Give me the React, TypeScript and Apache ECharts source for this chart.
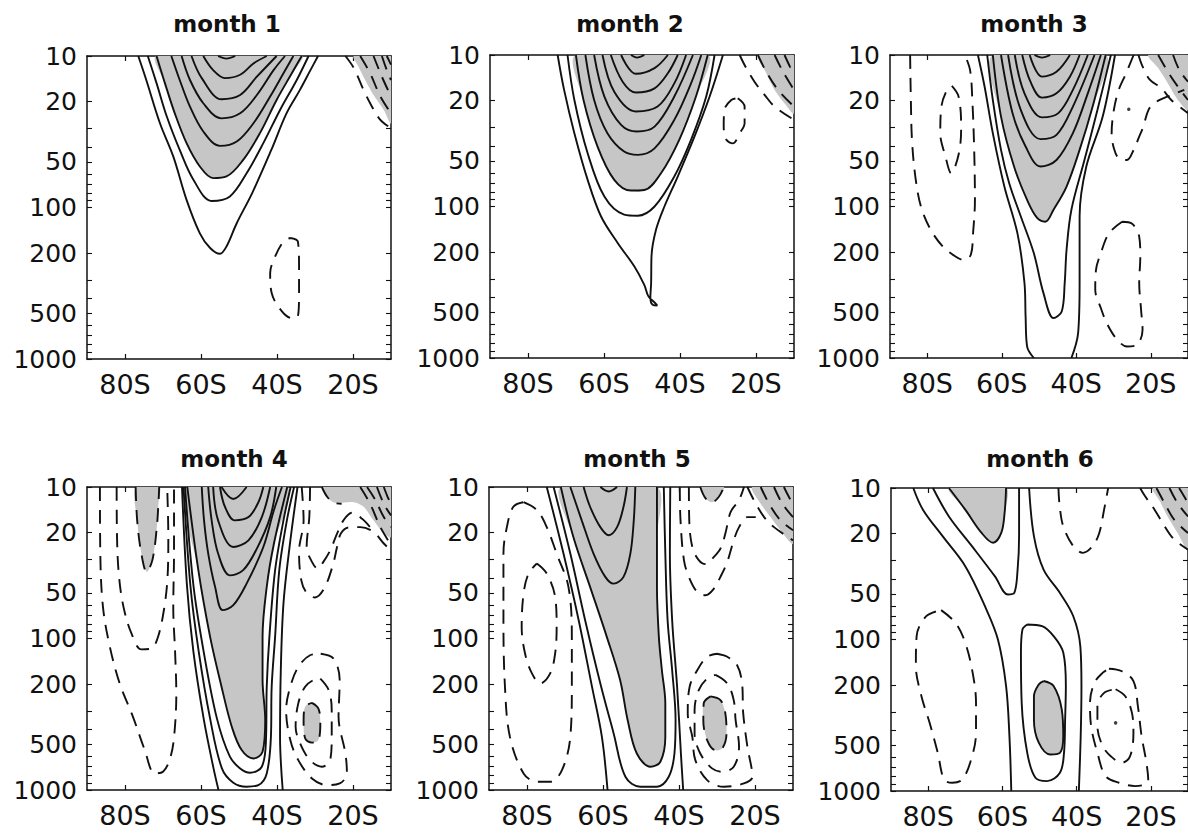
import React, { useEffect, useRef } from 'react';
import * as echarts from 'echarts';

type Pt = [number, number];

// ---------- labels ----------
const months = ['month 1', 'month 2', 'month 3', 'month 4', 'month 5', 'month 6'];
const pressureLabels = [10, 20, 50, 100, 200, 500, 1000];
const pressureTicks = [10, 20, 30, 40, 50, 60, 70, 80, 90, 100, 200, 300, 400, 500, 600, 700, 800, 900, 1000];
const latLabels = [-80, -60, -40, -20];

// ---------- month 1 ----------
const m1Solid: Pt[][] = [
  [[-76.5, 10], [-74.4, 14.4], [-70.8, 27.8], [-67.3, 46], [-63.8, 89], [-60.3, 148], [-57.6, 185], [-55, 202], [-53.3, 181], [-50.6, 127], [-46.5, 80], [-41.5, 41.7], [-37.5, 23.9], [-34, 16.8], [-31.2, 12.4], [-29.2, 10]],
  [[-74, 10], [-71.7, 15.1], [-69, 25.1], [-65.6, 41.7], [-62, 65.6], [-57.2, 90.5], [-52.4, 84.5], [-48, 59.4], [-43.6, 37.6], [-39.2, 22.7], [-34.8, 14.4], [-31.7, 10]],
  [[-71.7, 10], [-69.5, 15.1], [-66.9, 23.9], [-63.8, 37.6], [-60.3, 53.6], [-56.8, 64], [-53.3, 62.4], [-48.9, 48.5], [-44.5, 32.3], [-40.1, 19.5], [-36.1, 13], [-33.5, 10]],
  [[-67.8, 10], [-65.6, 14.4], [-62.9, 21.6], [-59.4, 31.5], [-55, 39.2], [-50.6, 36.7], [-46.2, 27.8], [-41.8, 18.5], [-38.3, 13], [-35.7, 10]],
  [[-65.1, 10], [-62.9, 14.4], [-59.4, 20.5], [-54.6, 25.8], [-49.7, 23.9], [-45.3, 18.1], [-40.9, 12.4], [-37.9, 10]],
  [[-62.5, 10], [-59.8, 14], [-54.6, 19.3], [-49.7, 18.1], [-45.3, 13.7], [-40.1, 10]],
  [[-59.4, 10], [-56.8, 12.4], [-53.7, 14], [-49.7, 13.3], [-46.2, 11.2], [-42.7, 10]],
  [[-55.5, 10], [-53.3, 10.4], [-51, 10]],
];
const m1Dashed: Pt[][] = [
  [[-36.5, 159], [-34.5, 168], [-34.2, 246], [-34.2, 367], [-34.5, 524], [-36.1, 537], [-38.7, 485], [-41.4, 367], [-41.8, 271], [-40.5, 211], [-38.3, 168], [-36.5, 159]],
  [[-22, 10], [-19.8, 12], [-17.2, 16.8], [-15, 21.6], [-12.8, 26.4], [-10, 30]],
  [[-18.1, 10], [-15.5, 13], [-12.8, 18.5], [-10, 23.9]],
  [[-14.6, 10], [-12.4, 13.7], [-10, 18.5]],
  [[-12.4, 10], [-11.1, 12.4], [-10, 14.4]],
  [[-11.1, 10], [-10, 11.4]],
];
const m1Shade: Pt[][] = [
  [[-71.7, 10], [-69.5, 15.1], [-66.9, 23.9], [-63.8, 37.6], [-60.3, 53.6], [-56.8, 64], [-53.3, 62.4], [-48.9, 48.5], [-44.5, 32.3], [-40.1, 19.5], [-36.1, 13], [-33.5, 10]],
  [[-19.8, 10], [-10, 10], [-10, 27.8], [-11.9, 22.7], [-14.6, 18.1], [-16.8, 14.4], [-18.5, 11.8]],
];
const m1Dots: Pt[] = [];

// ---------- month 2 ----------
const m2Solid: Pt[][] = [
  [[-72.2, 10], [-70.5, 17], [-67.8, 32.8], [-64.3, 66.7], [-60.8, 116], [-56.4, 174], [-52, 249], [-49.4, 329], [-48.3, 392], [-46.7, 430], [-46, 450], [-47.2, 445], [-47.8, 402], [-47.6, 320], [-47.5, 213], [-46.3, 142], [-44.1, 100], [-40.6, 63.4], [-36.2, 34.6], [-32.2, 18.8], [-28.7, 10]],
  [[-69.6, 10], [-67.8, 19.8], [-64.3, 44.5], [-59.9, 86], [-54.7, 113], [-51.1, 115], [-46.7, 100], [-41.5, 63.4], [-37.1, 36.3], [-33.1, 18.8], [-30.9, 10]],
  [[-67.4, 10], [-65.4, 19.8], [-61.7, 40.2], [-57.3, 66.7], [-52.9, 78.5], [-49.4, 77.8], [-45, 60.3], [-40.2, 36.3], [-35.8, 18.8], [-32.7, 10]],
  [[-64.9, 10], [-62.6, 19.8], [-59.1, 32.8], [-54.7, 43.4], [-51.1, 45.6], [-46.7, 41.3], [-41.5, 26.8], [-37.1, 15.4], [-34.4, 10]],
  [[-62.6, 10], [-59.9, 18.8], [-55.5, 28.9], [-51.3, 32], [-46.7, 29.7], [-41.5, 18.8], [-36.6, 10]],
  [[-60.4, 10], [-57.3, 17.5], [-51.6, 23.6], [-45.9, 21.9], [-41.5, 15.4], [-38.4, 10]],
  [[-58.2, 10], [-55.1, 15], [-51.6, 17.7], [-46.7, 16.6], [-43.2, 13.2], [-40.6, 10]],
  [[-55.5, 10], [-51.6, 13.3], [-46.7, 12.2], [-43.2, 10]],
  [[-52.9, 10], [-51.3, 10.4], [-49.4, 10]],
];
const m2Dashed: Pt[][] = [
  [[-24.8, 19.3], [-23, 21.9], [-23, 28.2], [-24.3, 32.8], [-26.1, 38.3], [-27.8, 36.3], [-28.5, 29.7], [-28.3, 23], [-26.5, 19.8], [-24.8, 19.3]],
  [[-24.3, 10], [-22.8, 11.9], [-20.4, 15], [-17.7, 18.4], [-15.1, 21.9], [-10, 26.8]],
  [[-19.5, 10], [-17.3, 12.9], [-14.2, 17], [-10, 21.9]],
  [[-15.1, 10], [-12.9, 12.9], [-10, 17]],
  [[-12.5, 10], [-11.1, 11.9], [-10, 13.5]],
];
const m2Shade: Pt[][] = [
  [[-67.4, 10], [-65.4, 19.8], [-61.7, 40.2], [-57.3, 66.7], [-52.9, 78.5], [-49.4, 77.8], [-45, 60.3], [-40.2, 36.3], [-35.8, 18.8], [-32.7, 10]],
  [[-19.5, 10], [-10, 10], [-10, 24.2], [-12.5, 20.8], [-15.1, 17], [-17.3, 13.2]],
];
const m2Dots: Pt[] = [];

// ---------- month 3 ----------
const m3Solid: Pt[][] = [
  [[-66.4, 10], [-64.6, 16.2], [-62.4, 32.8], [-59.3, 73.8], [-55.8, 150], [-53.9, 320], [-53.6, 531], [-53.2, 839], [-51.4, 1000]],
  [[-29.6, 10], [-32.9, 25.5], [-37.3, 54.5], [-39.1, 116], [-39.1, 320], [-39.5, 686], [-41.3, 1000]],
  [[-63.9, 10], [-62.4, 19.8], [-60.2, 42.3], [-58, 70.2], [-54.9, 116], [-51.4, 203], [-48.8, 373], [-46.1, 545], [-43.9, 493], [-43.1, 320], [-42.6, 193], [-41.3, 105], [-37.8, 49.3], [-34.3, 23], [-30.7, 10]],
  [[-62.4, 10], [-60.2, 25.5], [-56.7, 54.5], [-53.2, 90.5], [-50.5, 119], [-48.3, 126], [-46.1, 105], [-42.6, 73.8], [-39.1, 42.3], [-35.6, 21.9], [-32.1, 10]],
  [[-60.2, 10], [-57.1, 24.2], [-53.6, 40.2], [-49.6, 54.5], [-45.3, 49.3], [-40.9, 32.8], [-36.9, 17.9], [-33.4, 10]],
  [[-58.3, 10], [-54.9, 23], [-49.6, 35.9], [-45.3, 33.7], [-40.9, 21.9], [-35.1, 10]],
  [[-56.5, 10], [-53.9, 17.9], [-49.2, 25.8], [-44.8, 24.2], [-40.9, 17], [-36.9, 10]],
  [[-54.5, 10], [-52.3, 15], [-49.2, 19.1], [-45.3, 17.9], [-41.7, 13.9], [-39.1, 10]],
  [[-52.5, 10], [-49.2, 13.9], [-45.3, 12.9], [-41.7, 10]],
  [[-51.2, 10], [-49.2, 10.4], [-47, 10]],
];
const m3Dashed: Pt[][] = [
  [[-84.6, 10], [-84.4, 19.8], [-84.1, 36.3], [-83.2, 63.4], [-81.7, 100], [-79.1, 142], [-75.8, 184], [-72.5, 213], [-70.3, 225], [-68.3, 208], [-67.7, 150], [-67.2, 90.5], [-67.4, 42.3], [-67.9, 19.8], [-68.5, 12.6], [-69.9, 10]],
  [[-73.4, 16], [-71.6, 18.8], [-70.9, 29.7], [-71.5, 44.5], [-73.6, 60.3], [-75.1, 46.8], [-76.5, 32.8], [-76.2, 21.9], [-74.7, 17], [-73.4, 16]],
  [[-24.6, 10], [-26.8, 13.5], [-28.6, 17], [-29.9, 23], [-30.5, 32.8], [-29.9, 41.3], [-28.6, 48], [-26.4, 49.3], [-24.6, 42.3], [-23.1, 34.6], [-22, 29.7], [-20.6, 23], [-18.9, 20.8], [-17.6, 19.8], [-14.5, 18.4], [-11, 17]],
  [[-27.7, 126], [-25, 130], [-23.1, 158], [-22.8, 213], [-23.1, 320], [-22.6, 480], [-22.2, 651], [-23.7, 818], [-26.4, 839], [-29, 758], [-31.6, 603], [-33.4, 468], [-34.9, 355], [-34.7, 262], [-33.4, 203], [-31.2, 150], [-27.7, 126]],
  [[-23.3, 10], [-22.2, 11.9], [-20.2, 14.6], [-17.1, 16.6], [-14.5, 19.8], [-10, 24.2]],
  [[-18, 10], [-15.4, 12.9], [-12.7, 16.2], [-10, 19.8]],
  [[-14, 10], [-12.3, 12.6], [-10, 15]],
];
const m3Shade: Pt[][] = [
  [[-62.4, 10], [-60.2, 25.5], [-56.7, 54.5], [-53.2, 90.5], [-50.5, 119], [-48.3, 126], [-46.1, 105], [-42.6, 73.8], [-39.1, 42.3], [-35.6, 21.9], [-32.1, 10]],
  [[-20.6, 10], [-10, 10], [-10, 23], [-12.7, 19.8], [-15.4, 15.4], [-18, 12.2]],
];
const m3Dots: Pt[] = [[-25.9, 22.8]];

// ---------- month 4 ----------
const m4Solid: Pt[][] = [
  [[-65, 10], [-63.7, 44.5], [-62, 122], [-59.3, 338], [-56.7, 720], [-55.4, 1000]],
  [[-34.6, 10], [-36.7, 24.9], [-38.3, 58.8], [-39, 162], [-39.2, 445], [-38.5, 1000]],
  [[-64.6, 10], [-62.8, 44.5], [-60.6, 122], [-57.6, 338], [-54.5, 720], [-51.5, 895], [-48, 951], [-44.9, 928], [-42.7, 777], [-41.6, 445], [-41.4, 208], [-40.5, 97.5], [-39.4, 35.4], [-37.4, 16.6], [-35.5, 10]],
  [[-64.2, 10], [-62, 44.5], [-59.3, 122], [-55.8, 338], [-52.4, 603], [-49.7, 720], [-47.1, 769], [-44, 702], [-42.9, 468], [-42.7, 208], [-42, 97.5], [-40.5, 35.4], [-38.3, 16.6], [-36.4, 10]],
  [[-63.6, 10], [-60.7, 35.4], [-57.6, 97.5], [-54.6, 208], [-51.9, 382], [-49.3, 545], [-46.2, 619], [-43.8, 560], [-43.1, 346], [-43.8, 188], [-43.8, 97.5], [-42.7, 45.6], [-40.8, 23.6], [-37.3, 10]],
  [[-59.8, 10], [-59.2, 16.6], [-58.1, 27.5], [-56.3, 45.6], [-54.3, 65], [-51.5, 60.3], [-48, 43.4], [-43.6, 24.9], [-40.8, 14.2], [-38.7, 10]],
  [[-58.1, 10], [-57.2, 16.6], [-55.5, 27.5], [-52.4, 38.3], [-48.9, 35.4], [-45.3, 25.5], [-41.8, 15.8], [-40.2, 10]],
  [[-56.8, 10], [-55.5, 16.6], [-51.5, 24.9], [-47.5, 22.5], [-44, 15.8], [-41.8, 10]],
  [[-55, 10], [-53.7, 13.5], [-51.1, 16.6], [-47.5, 15.8], [-44.9, 12.6], [-43.6, 10]],
  [[-54.6, 10], [-51.5, 12], [-48, 10]],
];
const m4Dashed: Pt[][] = [
  [[-77.2, 10], [-76.8, 16.6], [-75.7, 27.5], [-74.3, 36.3], [-72.8, 30.4], [-71.7, 19.3], [-71.2, 12.9], [-71, 10]],
  [[-82.2, 10], [-82.1, 21.4], [-81.6, 38.3], [-80.4, 61.8], [-78.3, 92.6], [-75.7, 118], [-73, 116], [-71.3, 97.5], [-69.7, 63.4], [-68.8, 39.2], [-68.6, 21.4], [-68.9, 10]],
  [[-86.6, 10], [-86.5, 27.5], [-85.8, 61.8], [-84, 113], [-81.4, 198], [-77.9, 329], [-74.8, 545], [-72.2, 777], [-70, 758], [-68, 603], [-67, 423], [-66.5, 231], [-66.8, 126], [-67.3, 61.8], [-67.1, 27.5], [-67.1, 10]],
  [[-31.3, 10], [-31.5, 15.8], [-32.2, 24.9], [-30.8, 31.2], [-29.3, 34.6], [-27.8, 31.2], [-26, 26.2], [-24.2, 20.3], [-22.5, 16.6], [-20.3, 14.8], [-17.6, 16.2], [-15.5, 18.4]],
  [[-33.5, 10], [-33, 16.6], [-34.2, 26.8], [-33.6, 41.3], [-32.2, 50], [-30, 53.6], [-27.6, 46.8], [-25.3, 32.8], [-24.2, 24.9], [-23.2, 20.3], [-21.2, 18.5], [-18.1, 18.4], [-14.6, 19.8], [-11.9, 23.6], [-10, 26.2]],
  [[-28.2, 10], [-26.8, 11.6], [-25, 12.7], [-23, 12.9]],
  [[-28.5, 126], [-25.1, 136], [-23.5, 188], [-23.8, 329], [-22, 574], [-21.6, 777], [-23.5, 905], [-26.9, 928], [-30.8, 839], [-34.4, 635], [-36.5, 468], [-37.6, 297], [-36.5, 208], [-34.4, 154], [-31.3, 129], [-28.5, 126]],
  [[-28.6, 184], [-26.4, 219], [-25.6, 297], [-25.6, 445], [-26, 635], [-28.2, 702], [-31.3, 635], [-33.9, 493], [-35.1, 382], [-34.4, 268], [-32.6, 208], [-30.4, 188], [-28.6, 184]],
  [[-30.8, 266], [-29.1, 290], [-28.6, 364], [-29.1, 468], [-30.8, 487], [-32.6, 456], [-33, 346], [-32.6, 282], [-30.8, 266]],
  [[-18.1, 10], [-15.5, 12.9], [-12.8, 18.4], [-10, 24.2]],
  [[-16.3, 10], [-14.1, 12.2], [-11.9, 15.8], [-10, 18.4]],
  [[-13.7, 10], [-11.9, 12.9], [-10, 15.4]],
  [[-11.9, 10], [-10.9, 11.6], [-10, 12.9]],
];
const m4Shade: Pt[][] = [
  [[-63.6, 10], [-60.7, 35.4], [-57.6, 97.5], [-54.6, 208], [-51.9, 382], [-49.3, 545], [-46.2, 619], [-43.8, 560], [-43.1, 346], [-43.8, 188], [-43.8, 97.5], [-42.7, 45.6], [-40.8, 23.6], [-37.3, 10]],
  [[-77.2, 10], [-76.8, 16.6], [-75.7, 27.5], [-74.3, 36.3], [-72.8, 30.4], [-71.7, 19.3], [-71.2, 12.9], [-71, 10]],
  [[-27.8, 10], [-26.4, 11.9], [-24.7, 12.7], [-19.8, 12.6], [-17.2, 13.5], [-14.6, 16.6], [-11.9, 20.3], [-10, 21.4], [-10, 10]],
  [[-30.8, 266], [-29.1, 290], [-28.6, 364], [-29.1, 468], [-30.8, 487], [-32.6, 456], [-33, 346], [-32.6, 282]],
];
const m4Dots: Pt[] = [];

// ---------- month 5 ----------
const m5Solid: Pt[][] = [
  [[-74.8, 10], [-70.4, 27.5], [-66.4, 75.7], [-62.9, 208], [-60.3, 445], [-58.8, 1000]],
  [[-42.3, 10], [-42.4, 27.5], [-41.8, 75.7], [-40.5, 208], [-39.5, 574], [-38.9, 1000]],
  [[-73, 10], [-68.6, 27.5], [-64.7, 75.7], [-60.7, 198], [-57.2, 423], [-54.1, 818], [-50.2, 951], [-45.8, 951], [-42.7, 818], [-41.2, 574], [-40.9, 346], [-41.8, 162], [-43, 75.7], [-43.6, 27.5], [-44, 10]],
  [[-71.1, 10], [-67.8, 21.4], [-63.4, 45.6], [-59, 97.5], [-55.5, 188], [-53.5, 346], [-51.1, 574], [-47.5, 702], [-44.9, 651], [-43.6, 445], [-43.6, 268], [-44.5, 162], [-45.3, 97.5], [-45.8, 45.6], [-45.8, 21.4], [-45.8, 10]],
  [[-68.6, 10], [-65.6, 16.6], [-62.5, 27.5], [-59.4, 39.2], [-57.2, 43.4], [-54.6, 39.2], [-52.8, 27.5], [-51.9, 16.6], [-51.5, 10]],
  [[-65.1, 10], [-63.4, 13.5], [-60.7, 18.4], [-58.5, 20.8], [-56.3, 18.4], [-54.6, 13.5], [-53.7, 10]],
  [[-60.7, 10], [-58.5, 10.7], [-56.3, 10]],
];
const m5Dashed: Pt[][] = [
  [[-80.9, 12.6], [-77.4, 14.2], [-74.8, 18.4], [-72.2, 27.5], [-69.1, 45.6], [-68.2, 97.5], [-68.2, 208], [-68.6, 445], [-70.8, 739], [-73.9, 882], [-77.4, 882], [-80.9, 777], [-84.5, 445], [-85.8, 208], [-86.2, 75.7], [-86.2, 27.5], [-85.3, 18.4], [-83.6, 13.5], [-80.9, 12.6]],
  [[-77.4, 32], [-74.8, 37.3], [-72.6, 53.1], [-72.2, 83.7], [-72.6, 126], [-73.9, 170], [-76.5, 198], [-78.7, 170], [-80.5, 126], [-81.4, 83.7], [-80.9, 50.5], [-79.6, 37.3], [-77.4, 32]],
  [[-37.4, 10], [-37.3, 16.6], [-36.5, 24.9], [-34.8, 30.4], [-33, 32.3], [-30.8, 28.9], [-29.1, 25.5], [-27.8, 20.3], [-26.4, 14.6], [-24.2, 12.2], [-22.9, 10]],
  [[-39.8, 10], [-39.6, 16.6], [-38.7, 30.4], [-37.4, 39.2], [-35.2, 49.3], [-33, 51.8], [-30.8, 46.8], [-29.1, 39.2], [-27.3, 31.2], [-25.6, 22.5], [-24.2, 18.4], [-22, 15.8], [-19.8, 15.8]],
  [[-34.4, 10], [-33, 11.9], [-31.3, 12.6], [-29.5, 11.6], [-28.2, 10]],
  [[-30, 126], [-27.3, 132], [-24.7, 150], [-23.4, 198], [-23.1, 312], [-22, 518], [-20.7, 818], [-22.9, 905], [-28.2, 951], [-32.6, 860], [-35.7, 635], [-36.5, 445], [-37.7, 312], [-37.2, 208], [-35.2, 162], [-32.6, 132], [-30, 126]],
  [[-30.4, 174], [-27.3, 198], [-25.6, 255], [-25.1, 346], [-24.2, 518], [-25.6, 702], [-28.6, 758], [-31.3, 720], [-34.4, 574], [-35.9, 423], [-35.9, 297], [-34.8, 219], [-32.6, 184], [-30.4, 174]],
  [[-31.7, 241], [-29.1, 255], [-27.8, 312], [-27.5, 423], [-28.6, 531], [-30.4, 545], [-32.6, 468], [-33.6, 346], [-33.5, 268], [-31.7, 241]],
  [[-22, 10], [-20.3, 12.2], [-17.6, 15.8], [-15, 18.4], [-10, 22.5]],
  [[-18.5, 10], [-16.3, 12.9], [-13.3, 16.6], [-10, 19.3]],
  [[-15, 10], [-12.8, 12.9], [-10, 15.8]],
  [[-12.4, 10], [-11.1, 11.6], [-10, 12.9]],
];
const m5Shade: Pt[][] = [
  [[-71.1, 10], [-67.8, 21.4], [-63.4, 45.6], [-59, 97.5], [-55.5, 188], [-53.5, 346], [-51.1, 574], [-47.5, 702], [-44.9, 651], [-43.6, 445], [-43.6, 268], [-44.5, 162], [-45.3, 97.5], [-45.8, 45.6], [-45.8, 21.4], [-45.8, 10]],
  [[-34.4, 10], [-33, 11.9], [-31.3, 12.6], [-29.5, 11.6], [-28.2, 10]],
  [[-31.7, 241], [-29.1, 255], [-27.8, 312], [-27.5, 423], [-28.6, 531], [-30.4, 545], [-32.6, 468], [-33.6, 346], [-33.5, 268]],
  [[-20.7, 10], [-10, 10], [-10, 23.6], [-13.3, 19.3], [-15.9, 15.8], [-18.5, 12.9]],
];
const m5Dots: Pt[] = [];

// ---------- month 6 ----------
const m6Solid: Pt[][] = [
  [[-74.4, 10], [-70, 13.9], [-65.6, 19.8], [-62.5, 23], [-60.3, 19.8], [-59.4, 14.6], [-59, 10]],
  [[-78.7, 10], [-74.4, 15.4], [-68.2, 24.2], [-62, 38.3], [-58.5, 50.5], [-56.8, 49.3], [-55.9, 34.6], [-55.5, 20.8], [-55.5, 10]],
  [[-84, 10], [-81.4, 13.9], [-76.1, 20.8], [-70, 32.8], [-64.7, 60.3], [-61.2, 100], [-59, 203], [-58.1, 434], [-57.6, 1000]],
  [[-52.8, 10], [-51.5, 20.8], [-48.9, 34.6], [-44.5, 49.3], [-40.9, 70.2], [-39, 111], [-38.7, 203], [-38.9, 434], [-39.4, 1000]],
  [[-53.3, 79.6], [-49.3, 81.6], [-46.2, 95], [-43.6, 122], [-42.9, 203], [-43.1, 338], [-43.4, 560], [-44.5, 758], [-48, 860], [-51.1, 818], [-53.3, 560], [-54.8, 262], [-55, 122], [-54.6, 86], [-53.3, 79.6]],
  [[-48.9, 188], [-46.2, 203], [-44, 290], [-43.6, 434], [-44.5, 560], [-47.1, 574], [-50.2, 480], [-51.5, 338], [-51.5, 237], [-50.2, 198], [-48.9, 188]],
];
const m6Dashed: Pt[][] = [
  [[-76.5, 64], [-72.6, 77.8], [-70, 105], [-68, 166], [-67.1, 262], [-67.1, 412], [-68.4, 619], [-70.8, 839], [-73.5, 882], [-75.7, 839], [-77.4, 560], [-79.6, 355], [-81.8, 237], [-83.3, 150], [-83.1, 95], [-80.5, 70.2], [-76.5, 64]],
  [[-44.9, 10], [-44.6, 12.9], [-43.6, 17.9], [-40.9, 24.2], [-38.3, 26.8], [-35.7, 24.2], [-33.9, 19.8], [-32.6, 13.9], [-31.5, 10]],
  [[-31.3, 156], [-27.8, 162], [-24.7, 188], [-23.5, 275], [-22.5, 434], [-21.2, 651], [-20.7, 860], [-24.2, 928], [-28.6, 882], [-32.2, 797], [-34.4, 560], [-36.1, 373], [-36.4, 262], [-35.2, 193], [-33, 166], [-31.3, 156]],
  [[-29.5, 213], [-26.9, 237], [-25.1, 305], [-24.7, 412], [-25.6, 589], [-27.8, 651], [-30.8, 589], [-33, 505], [-34.4, 373], [-34.4, 275], [-32.6, 225], [-29.5, 213]],
  [[-22.9, 10], [-21.6, 11.3], [-19, 13.9], [-16.3, 17.9], [-13.7, 21.9], [-10, 25.5]],
  [[-18.5, 10], [-16.3, 12.6], [-13.7, 16.2], [-10, 19.8]],
  [[-15, 10], [-12.8, 12.6], [-10, 15.4]],
  [[-12.4, 10], [-11.1, 11.3], [-10, 12.6]],
];
const m6Shade: Pt[][] = [
  [[-74.4, 10], [-70, 13.9], [-65.6, 19.8], [-62.5, 23], [-60.3, 19.8], [-59.4, 14.6], [-59, 10]],
  [[-48.9, 188], [-46.2, 203], [-44, 290], [-43.6, 434], [-44.5, 560], [-47.1, 574], [-50.2, 480], [-51.5, 338], [-51.5, 237], [-50.2, 198]],
  [[-19.4, 10], [-10, 10], [-10, 25.5], [-12.8, 19.8], [-15.5, 15.4], [-17.6, 12.2]],
];
const m6Dots: Pt[] = [[-29.5, 355]];

const panels = [
  { solid: m1Solid, dashed: m1Dashed, shade: m1Shade, dots: m1Dots },
  { solid: m2Solid, dashed: m2Dashed, shade: m2Shade, dots: m2Dots },
  { solid: m3Solid, dashed: m3Dashed, shade: m3Shade, dots: m3Dots },
  { solid: m4Solid, dashed: m4Dashed, shade: m4Shade, dots: m4Dots },
  { solid: m5Solid, dashed: m5Dashed, shade: m5Shade, dots: m5Dots },
  { solid: m6Solid, dashed: m6Dashed, shade: m6Shade, dots: m6Dots },
];

// ---------- layout ----------
const boxes = [
  { left: 87, top: 56 }, { left: 490, top: 55 }, { left: 890, top: 55 },
  { left: 87, top: 487 }, { left: 489, top: 487 }, { left: 891, top: 488 },
];
const titlePos: [number, number][] = [[227, 24], [630, 24], [1034, 24], [234, 459], [637, 459], [1040, 459]];
const BOX_W = 304;
const BOX_H = 303;
const INK = '#111111';
const GRAY = '#c6c6c6';

const lg = (p: number) => Math.log10(p);
const toXY = (pts: Pt[]) => pts.map(([lat, p]) => [lat, lg(p)]);

function buildOption() {
  const grid: any[] = [];
  const xAxis: any[] = [];
  const yAxis: any[] = [];
  const series: any[] = [];
  const axisLine = { show: true, onZero: false, lineStyle: { color: INK, width: 1.5 } };

  boxes.forEach((b, i) => {
    grid.push({ left: b.left, top: b.top, width: BOX_W, height: BOX_H });
    const xBase = {
      type: 'value', gridIndex: i, min: -90, max: -10,
      axisLine, splitLine: { show: false },
      axisTick: { show: true, inside: true, length: 5, customValues: latLabels, lineStyle: { color: INK, width: 1.2 } },
    };
    xAxis.push({
      ...xBase, position: 'bottom',
      axisLabel: {
        show: true, customValues: latLabels, margin: 12,
        formatter: (v: number) => `${Math.abs(Math.round(v))}S`,
        fontSize: 27, fontFamily: 'DejaVu Sans', color: INK,
      },
    });
    xAxis.push({ ...xBase, position: 'top', axisLabel: { show: false } });
    const yBase = {
      type: 'value', gridIndex: i, min: 1, max: 3, inverse: true,
      axisLine, splitLine: { show: false },
      axisTick: { show: true, inside: true, length: 5, customValues: pressureTicks.map(lg), lineStyle: { color: INK, width: 1.1 } },
    };
    yAxis.push({
      ...yBase, position: 'left',
      axisLabel: {
        show: true, customValues: pressureLabels.map(lg), margin: 10,
        formatter: (v: number) => String(Math.round(Math.pow(10, v))),
        fontSize: 25, fontFamily: 'DejaVu Sans', color: INK,
      },
    });
    yAxis.push({ ...yBase, position: 'right', axisLabel: { show: false } });

    const pnl = panels[i];
    const xi = 2 * i;
    const yi = 2 * i;
    series.push({
      type: 'custom', xAxisIndex: xi, yAxisIndex: yi, clip: true, silent: true, z: 1,
      data: pnl.shade.map((_, k) => [-50, 2, k]),
      renderItem: (params: any, api: any) => {
        const k = api.value(2);
        const pts = pnl.shade[k];
        return {
          type: 'polygon',
          shape: { points: pts.map(([lat, p]) => api.coord([lat, lg(p)])), smooth: 0.3 },
          style: { fill: GRAY, stroke: 'none' },
        };
      },
    });
    pnl.solid.forEach((c) => {
      series.push({
        type: 'line', xAxisIndex: xi, yAxisIndex: yi, data: toXY(c), symbol: 'none', showSymbol: false,
        smooth: 0.35, silent: true, z: 3, clip: true,
        lineStyle: { color: INK, width: 1.9, type: 'solid' },
      });
    });
    pnl.dashed.forEach((c) => {
      series.push({
        type: 'line', xAxisIndex: xi, yAxisIndex: yi, data: toXY(c), symbol: 'none', showSymbol: false,
        smooth: 0.35, silent: true, z: 3, clip: true,
        lineStyle: { color: INK, width: 1.9, type: [14, 9] },
      });
    });
    if (pnl.dots.length) {
      series.push({
        type: 'scatter', xAxisIndex: xi, yAxisIndex: yi, data: toXY(pnl.dots), symbolSize: 3.5,
        itemStyle: { color: INK }, silent: true, z: 3,
      });
    }
  });

  const graphic = months.map((t, i) => ({
    type: 'text', x: titlePos[i][0], y: titlePos[i][1], z: 10,
    style: {
      text: t, fill: INK, font: 'bold 23px "DejaVu Sans"',
      textAlign: 'center', textVerticalAlign: 'middle',
    },
  }));

  return {
    animation: false,
    backgroundColor: '#ffffff',
    grid, xAxis, yAxis, series, graphic,
  };
}

export default function App() {
  const ref = useRef<HTMLDivElement>(null);
  useEffect(() => {
    if (!ref.current) return;
    const chart = echarts.init(ref.current, undefined, { renderer: 'svg' });
    chart.setOption(buildOption() as any);
    return () => chart.dispose();
  }, []);
  return (
    <div
      ref={ref}
      style={{ position: 'absolute', left: 0, top: 0, width: 1188, height: 835, background: '#fff' }}
    />
  );
}
